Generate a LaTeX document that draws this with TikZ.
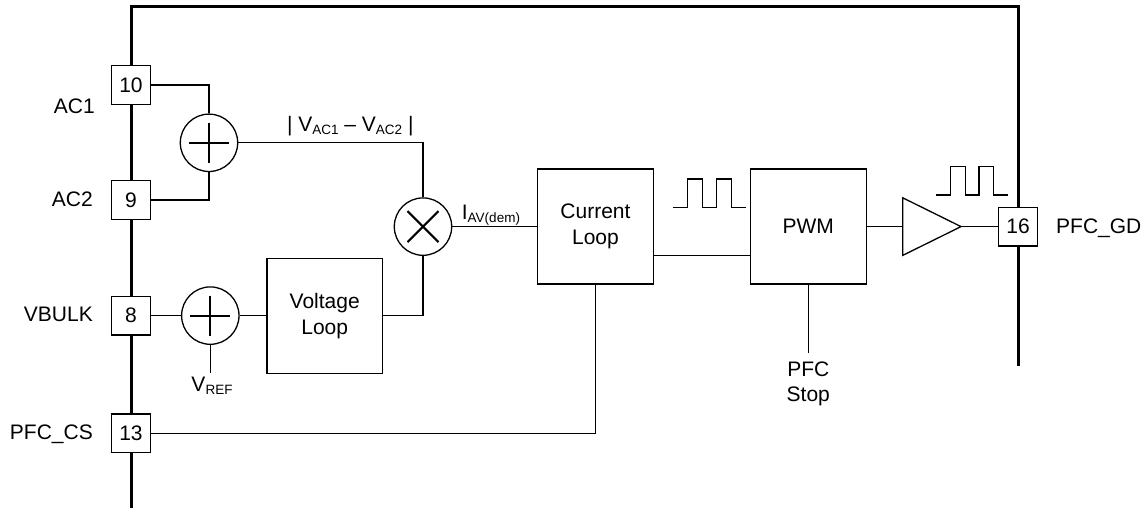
\documentclass[tikz,border=0pt]{standalone}
\usepackage{fontspec}
\setmainfont{Liberation Sans}
\usetikzlibrary{calc}
\newcommand{\mysub}[1]{\raisebox{-3pt}{\fontsize{13.5}{14}\selectfont #1}}
\begin{document}
\begin{tikzpicture}[x=1pt,y=-1pt,
  font=\fontsize{21}{26}\selectfont,
  wire/.style={line width=1.3pt},
  bus/.style={line width=3pt},
  pinbox/.style={draw, line width=1.3pt, fill=white, minimum size=38.5pt, inner sep=0pt},
  blockbox/.style={draw, line width=1.3pt, minimum width=115.7pt, minimum height=115pt, inner sep=0pt, align=center},
  sumnode/.style={draw, circle, line width=1.3pt, minimum size=57.4pt, inner sep=0pt},
  sign/.style={line width=2pt},
  lbl/.style={inner sep=0pt}
]
\useasboundingbox (0,0) rectangle (1146,508);

% package outline
\coordinate (busB) at (131,508);
\coordinate (busTL) at (131,7);
\coordinate (busTR) at (1018,7);
\coordinate (busR) at (1018,366);
\draw[bus] (busB) -- (busTL) -- (busTR) -- (busR);

% pins
\node[pinbox] (p10) at (131,85) {10};
\node[pinbox] (p9) at (131,200) {9};
\node[pinbox] (p8) at (131,315.6) {8};
\node[pinbox] (p13) at (131,433.3) {13};
\node[pinbox] (p16) at (1018,226.6) {16};

% pin labels
\node[lbl, anchor=base east] (lac1) at (95,113.3) {AC1};
\node[lbl, anchor=base east] (lac2) at (93,206.7) {AC2};
\node[lbl, anchor=base east] (lvb) at (93,321.7) {VBULK};
\node[lbl, anchor=base east] (lcs) at (93,439.3) {PFC\_CS};
\node[lbl, anchor=base west] (lgd) at (1056,233.3) {PFC\_GD};

% summing / multiplying nodes
\node[sumnode] (s1) at (209,142.8) {};
\draw[sign] ($(s1.center)+(-20,0)$) -- ($(s1.center)+(20,0)$);
\draw[sign] ($(s1.center)+(0,-20)$) -- ($(s1.center)+(0,20)$);
\node[sumnode] (s2) at (210.3,315.6) {};
\draw[sign] ($(s2.center)+(-20,0)$) -- ($(s2.center)+(20,0)$);
\draw[sign] ($(s2.center)+(0,-20)$) -- ($(s2.center)+(0,20)$);
\node[sumnode] (m) at (423,226.6) {};
\draw[sign] ($(m.center)+(-15.5,-15.5)$) -- ($(m.center)+(15.5,15.5)$);
\draw[sign] ($(m.center)+(-15.5,15.5)$) -- ($(m.center)+(15.5,-15.5)$);

% blocks
\node[blockbox] (vl) at (324.7,315.8) {Voltage\\Loop};
\node[blockbox] (cl) at (595.5,226.6) {Current\\Loop};
\node[blockbox] (pwm) at (808.3,226.6) {PWM};

% buffer
\coordinate (bufin) at (902.7,226.6);
\coordinate (bufout) at (961,226.6);
\draw[wire] ($(bufin)+(0,-28.8)$) -- (bufout) -- ($(bufin)+(0,28.8)$) -- cycle;

% labels
\node[lbl, anchor=base] (vdiff) at (350.3,131.7) {| V\mysub{AC1} -- V\mysub{AC2} |};
\node[lbl, anchor=north, inner ysep=3.4pt] (vref) at (212,373.3) {V\mysub{REF}};
\node[lbl, anchor=base west] (iav) at (461.7,219) {I\mysub{AV(dem)}};
\node[lbl, anchor=north, inner ysep=8.4pt, align=center, font=\fontsize{21}{25}\selectfont] (stop) at (808.3,353.3) {PFC\\Stop};

% connections
\draw[wire] (p10.east) -- (p10.east -| s1.north) -- (s1.north);
\draw[wire] (p9.east) -- (p9.east -| s1.south) -- (s1.south);
\draw[wire] (s1.east) -- (s1.east -| m.north) -- (m.north);
\draw[wire] (p8.east) -- (s2.west);
\draw[wire] (s2.east) -- (s2.east -| vl.west);
\draw[wire] (s2.south) -- (s2.south |- vref.north);
\draw[wire] (vl.east) -- (vl.east -| m.south) -- (m.south);
\draw[wire] (m.east) -- (m.east -| cl.west);
\draw[wire] ([yshift=-29.1pt]cl.east) -- ([yshift=-29.1pt]cl.east -| pwm.west);
\draw[wire] (p13.east) -- (p13.east -| cl.south) -- (cl.south);
\draw[wire] (pwm.south) -- (stop.north);
\draw[wire] (pwm.east) -- (bufin);
\draw[wire] (bufout) -- (p16.west);

% pulse waveforms
\draw[wire] (673.3,207.3) -- (687.3,207.3) -- (687.3,179) -- (702.7,179) -- (702.7,207.3) -- (716.7,207.3) -- (716.7,179) -- (731.7,179) -- (731.7,207.3) -- (746,207.3);
\draw[wire] (935.7,195) -- (950.7,195) -- (950.7,166.7) -- (965.7,166.7) -- (965.7,195) -- (979,195) -- (979,166.7) -- (993.3,166.7) -- (993.3,195) -- (1008.3,195);
\end{tikzpicture}
\end{document}
